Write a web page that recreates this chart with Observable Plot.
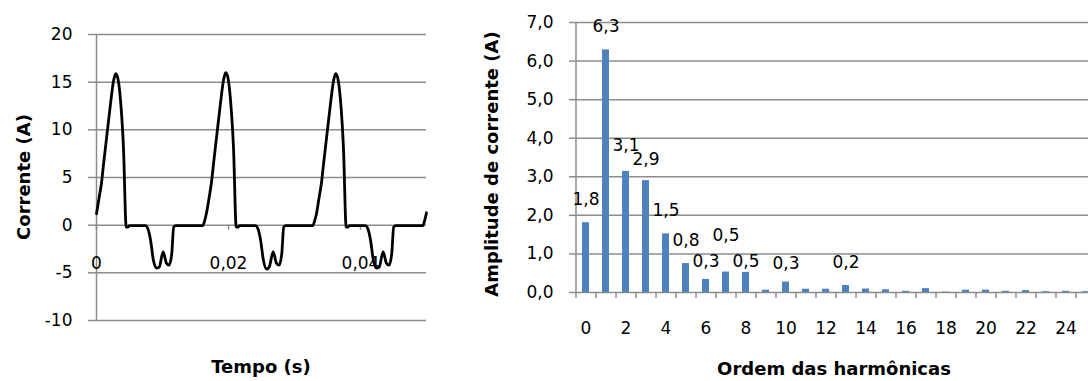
<!DOCTYPE html>
<html><head><meta charset="utf-8">
<script src="https://cdn.jsdelivr.net/npm/d3@7"></script>
<script src="https://cdn.jsdelivr.net/npm/@observablehq/plot@0.6"></script>
<style>
html,body{margin:0;padding:0;background:#fff;overflow:hidden;width:1088px;height:381px}
#root{position:relative;width:1088px;height:381px;overflow:hidden;font-family:"DejaVu Sans",sans-serif;color:#000}
#left{position:absolute;left:0;top:0;width:440px;height:381px}
#right{position:absolute;left:440px;top:0;width:660px;height:381px}
#root svg{max-width:none !important}
.title{position:absolute;font-weight:bold;font-size:18px;line-height:18px;white-space:nowrap;transform:translate(-50%,-50%)}
.rot{transform:translate(-50%,-50%) rotate(-90deg)}
</style></head>
<body><div id="root"><div id="left"></div><div id="right"></div>
<div class="title rot" style="left:24px;top:177px">Corrente (A)</div>
<div class="title" style="left:261px;top:367px">Tempo (s)</div>
<div class="title rot" style="left:492px;top:164px">Amplitude de corrente (A)</div>
<div class="title" style="left:834px;top:369px">Ordem das harmônicas</div>
</div>
<script>
// ---- Left chart: current waveform ----
const time = [
  0, 0.0004, 0.00075, 0.0011, 0.0016, 0.0021, 0.0026, 0.0029, 0.0032, 0.0036, 0.0041, 0.0045, 0.0048, 0.0050,
  0.0074, 0.0078, 0.0082, 0.0086, 0.0091, 0.0095, 0.0101, 0.0106, 0.0110, 0.0114, 0.0117, 0.0120, 0.0161, 0.0164,
  0.01667, 0.01707, 0.01742, 0.01777, 0.01827, 0.01877, 0.01927, 0.01957, 0.01987, 0.02027, 0.02077, 0.02117, 0.02147, 0.02167,
  0.02407, 0.02447, 0.02487, 0.02527, 0.02577, 0.02617, 0.02677, 0.02727, 0.02767, 0.02807, 0.02837, 0.02867, 0.03277, 0.03307,
  0.03333, 0.03373, 0.03408, 0.03443, 0.03493, 0.03543, 0.03593, 0.03623, 0.03653, 0.03693, 0.03743, 0.03783, 0.03813, 0.03833,
  0.04073, 0.04113, 0.04153, 0.04193, 0.04243, 0.04283, 0.04343, 0.04393, 0.04433, 0.04473, 0.04503, 0.04533, 0.04943, 0.04973, 0.0500
];
const current = [
  1.2, 2.9, 4.4, 6.6, 9.6, 12.6, 15.2, 15.9, 15.5, 13.4, 7.9, -0.2, -0.2, -0.05,
  -0.05, -0.4, -1.6, -3.6, -4.5, -4.4, -2.8, -4.0, -4.2, -3.0, -0.2, -0.05, -0.05, 0.5,
  1.3, 2.9, 4.5, 6.7, 9.7, 12.7, 15.3, 16.0, 15.6, 13.4, 7.9, -0.2, -0.2, -0.05,
  -0.05, -0.4, -1.6, -3.6, -4.6, -4.4, -2.8, -4.0, -4.2, -3.0, -0.2, -0.05, -0.05, 0.5,
  1.2, 2.9, 4.4, 6.6, 9.6, 12.6, 15.2, 15.9, 15.5, 13.4, 7.9, -0.2, -0.2, -0.05,
  -0.05, -0.4, -1.6, -3.6, -4.5, -4.4, -2.8, -4.0, -4.2, -3.0, -0.2, -0.05, -0.05, 0.5, 1.3
];
const yTicksLeft = [-10, -5, 0, 5, 10, 15, 20];
const xTicksLeft = [0, 0.02, 0.04];
const xTickLabelsLeft = ["0", "0,02", "0,04"];

// ---- Right chart: harmonic spectrum ----
const harmonicOrder = [0,1,2,3,4,5,6,7,8,9,10,11,12,13,14,15,16,17,18,19,20,21,22,23,24,25];
const amplitude = [1.81, 6.29, 3.14, 2.90, 1.52, 0.75, 0.34, 0.53, 0.52, 0.06, 0.27, 0.085, 0.085, 0.18, 0.09, 0.07, 0.03, 0.10, 0.01, 0.06, 0.06, 0.03, 0.05, 0.02, 0.03, 0.02];
const barLabels = ["1,8","6,3","3,1","2,9","1,5","0,8","0,3","0,5","0,5","","0,3","","","0,2","","","","","","","","","","","",""];
const yTicksRight = [0, 1, 2, 3, 4, 5, 6, 7];
const xTicksRight = [0, 2, 4, 6, 8, 10, 12, 14, 16, 18, 20, 22, 24];

const GRID = "#8c8c8c";
const BLUE = "#4f81bd";
const FONT = {fontFamily: "DejaVu Sans", fontSize: "17px", color: "#000", background: "transparent", overflow: "visible"};
// label offsets (px above bar top) as placed in the reference, to keep crowded labels apart
const labelLift = {2: 26, 3: 21, 6: 18, 7: 37, 8: 11, 10: 19};

const wave = time.map((t, i) => ({t, i: current[i]}));

const left = Plot.plot({
  width: 440, height: 381,
  marginLeft: 96, marginRight: 14, marginTop: 34, marginBottom: 61,
  x: {domain: [0, 0.05], axis: null, label: null},
  y: {domain: [-10, 20], label: null},
  style: FONT,
  marks: [
    Plot.gridY(yTicksLeft, {stroke: GRID, strokeOpacity: 1, strokeWidth: 1.5}),
    Plot.ruleX([0], {stroke: GRID, strokeWidth: 1.5}),
    Plot.ruleX(xTicksLeft, {y1: 0, y2: 0, insetBottom: -5, stroke: GRID, strokeWidth: 1.5}),
    Plot.axisY({ticks: yTicksLeft, label: null, tickFormat: d => String(d), tickSize: 8, tickPadding: 16, stroke: GRID, strokeWidth: 1.5, fill: "#000", fontSize: 17}),
    Plot.text(xTicksLeft, {x: d => d, y: 0, text: (d, i) => xTickLabelsLeft[i], dy: 38, fontSize: 17, fill: "#000"}),
    Plot.line(wave, {x: "t", y: "i", curve: "monotone-x", stroke: "#000", strokeWidth: 2.8})
  ]
});
document.getElementById("left").appendChild(left);

const bars = harmonicOrder.map((k, j) => ({k, a: amplitude[j], label: barLabels[j]}));
const fmt = d => d.toFixed(1).replace(".", ",");
const labelled = bars.filter(d => d.label);

const right = Plot.plot({
  width: 660, height: 381,
  marginLeft: 136, marginRight: 4, marginTop: 22, marginBottom: 89,
  x: {type: "band", domain: harmonicOrder, paddingInner: 0.635, paddingOuter: 0.3175, align: 0.5, label: null},
  y: {domain: [0, 7], label: null},
  style: FONT,
  marks: [
    Plot.gridY(yTicksRight, {stroke: GRID, strokeOpacity: 1, strokeWidth: 1.5}),
    Plot.axisY({ticks: yTicksRight, label: null, tickFormat: fmt, tickSize: 7, tickPadding: 16, stroke: GRID, strokeWidth: 1.5, fill: "#000", fontSize: 17}),
    Plot.barY(bars, {x: "k", y: "a", fill: BLUE}),
    Plot.ruleX([harmonicOrder[0]], {dx: -10, stroke: GRID, strokeWidth: 1.5}),
    Plot.ruleX(harmonicOrder, {y1: 0, y2: 0, insetBottom: -6, dx: -10, stroke: GRID, strokeWidth: 1.5}),
    Plot.axisX({ticks: xTicksRight, label: null, tickSize: 0, tickPadding: 29, fill: "#000", fontSize: 17}),
    ...labelled.map(d => Plot.text([d], {x: "k", y: "a", text: "label", dy: -(labelLift[d.k] ?? 23), fontSize: 17, fill: "#000"}))
  ]
});
document.getElementById("right").appendChild(right);
</script>
</body></html>
